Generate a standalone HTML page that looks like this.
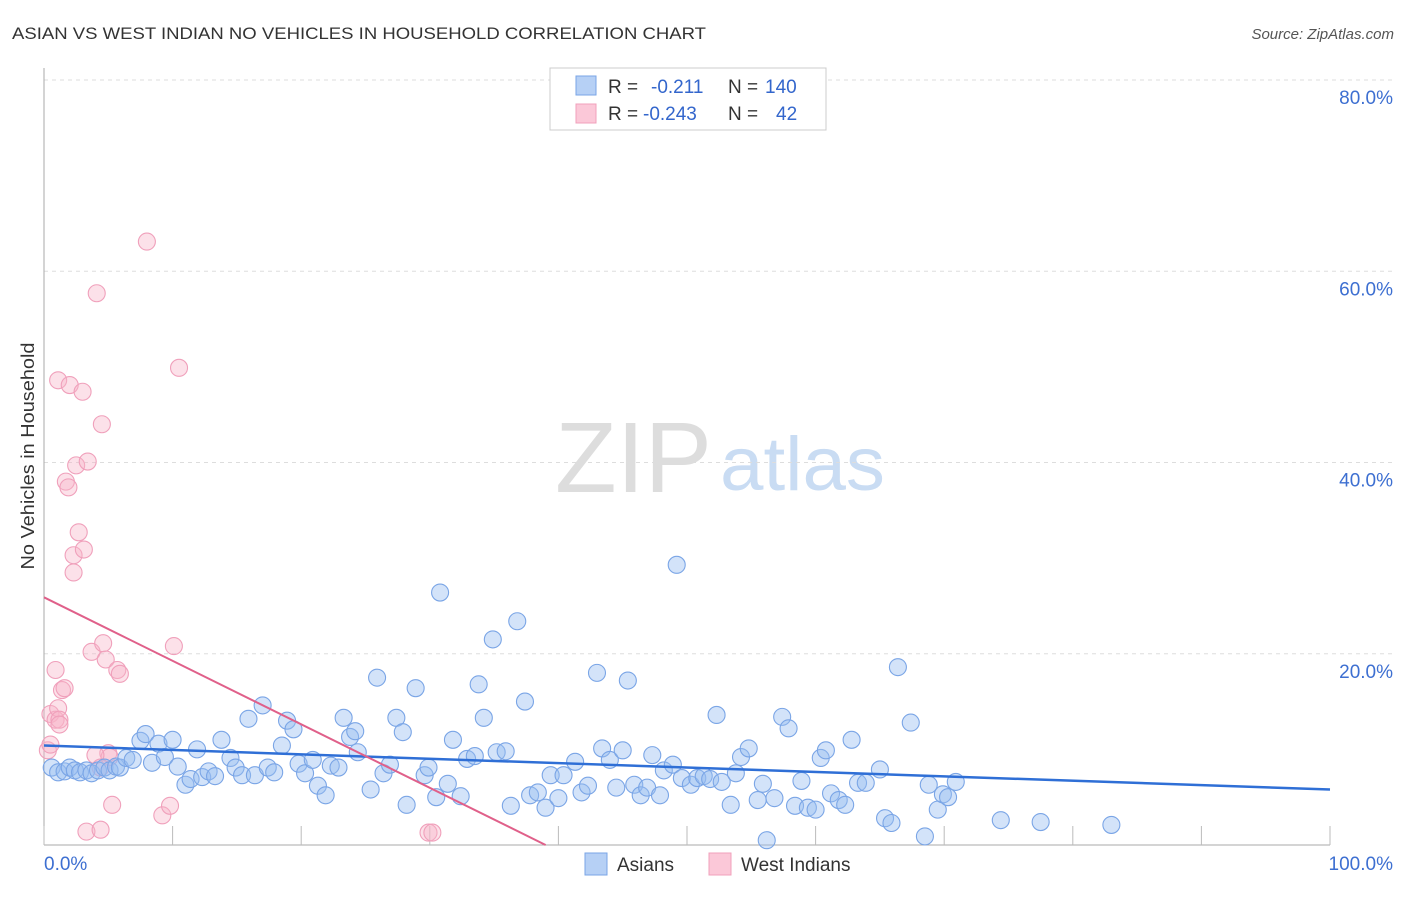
<!DOCTYPE html>
<html><head><meta charset="utf-8"><style>
body{margin:0;background:#fff;font-family:"Liberation Sans",sans-serif;}
svg text{font-family:"Liberation Sans",sans-serif;}
</style></head><body>
<svg id="chart" width="1406" height="892" viewBox="0 0 1406 892" xmlns="http://www.w3.org/2000/svg">
<text x="12" y="39" font-size="17" fill="#333" textLength="694" lengthAdjust="spacingAndGlyphs">ASIAN VS WEST INDIAN NO VEHICLES IN HOUSEHOLD CORRELATION CHART</text>
<text x="1394" y="39" font-size="15" fill="#555" font-style="italic" text-anchor="end">Source: ZipAtlas.com</text>
<text x="34" y="456" font-size="18" fill="#333" text-anchor="middle" textLength="227" lengthAdjust="spacingAndGlyphs" transform="rotate(-90 34 456)">No Vehicles in Household</text>
<g><text x="555" y="492" font-size="100" fill="#ddd" font-family="Liberation Serif" textLength="157" lengthAdjust="spacingAndGlyphs">ZIP</text><text x="720" y="490" font-size="76" fill="#c9dcf3" textLength="165" lengthAdjust="spacingAndGlyphs">atlas</text></g>
<g id="grid"></g>
<g id="axes"></g>
<g id="marks"></g>
<g>
<rect x="550" y="68" width="276" height="62" fill="#fff" stroke="#ccc"/>
<rect x="576" y="76" width="20" height="19" fill="#b6d0f5" stroke="#7aa5e6"/>
<rect x="576" y="104" width="20" height="19" fill="#fbc8d8" stroke="#f0a0bb"/>
<text x="608" y="93" font-size="19" fill="#333">R =</text><text x="651" y="93" font-size="19" fill="#3366cc">-0.211</text><text x="728" y="93" font-size="19" fill="#333">N =</text><text x="765" y="93" font-size="19" fill="#3366cc">140</text>
<text x="608" y="120" font-size="19" fill="#333">R =</text><text x="643" y="120" font-size="19" fill="#3366cc">-0.243</text><text x="728" y="120" font-size="19" fill="#333">N =</text><text x="776" y="120" font-size="19" fill="#3366cc">42</text>
</g>
<g>
<rect x="585" y="853" width="22" height="22" fill="#b6d0f5" stroke="#7aa5e6"/>
<text x="617" y="871" font-size="19" fill="#333">Asians</text>
<rect x="709" y="853" width="22" height="22" fill="#fbc8d8" stroke="#f0a0bb"/>
<text x="741" y="871" font-size="19" fill="#333">West Indians</text>
</g>
</svg>
<script>
const yTicks=[20,40,60,80];
const yTickLabels=["20.0%","40.0%","60.0%","80.0%"];
const xTicks=[0,10,20,30,40,50,60,70,80,90,100];
const asianX=[0.6,1.1,1.6,2.0,2.4,2.8,3.3,3.7,4.2,4.7,5.1,5.6,5.9,6.4,6.9,7.5,7.9,8.4,8.9,9.4,10.0,10.4,11.0,11.4,11.9,12.3,12.8,13.3,13.8,14.5,14.9,15.4,15.9,16.4,17.0,17.4,17.9,18.5,18.9,19.4,19.8,20.3,20.9,21.3,21.9,22.3,22.9,23.3,23.8,24.2,24.4,25.4,25.9,26.4,26.9,27.4,27.9,28.2,28.9,29.6,29.9,30.5,30.8,31.4,31.8,32.4,32.9,33.5,33.8,34.2,34.9,35.2,35.9,36.3,36.8,37.4,37.8,38.4,39.0,39.4,40.0,40.4,41.3,41.8,42.3,43.0,43.4,44.0,44.5,45.0,45.4,45.9,46.4,46.9,47.3,47.9,48.2,48.9,49.2,49.6,50.3,50.8,51.3,51.8,52.3,52.7,53.4,53.8,54.2,54.8,55.5,55.9,56.2,56.8,57.4,57.9,58.4,58.9,59.4,60.0,60.4,60.8,61.2,61.8,62.3,62.8,63.3,63.9,65.0,65.4,65.9,66.4,67.4,68.5,68.8,69.5,69.9,70.3,70.9,74.4,77.5,83.0];
const asianY=[8.1,7.6,7.7,8.1,7.8,7.6,7.8,7.5,7.8,8.1,7.8,8.2,8.1,9.1,8.9,10.9,11.6,8.6,10.6,9.2,11.0,8.2,6.3,6.9,10.0,7.1,7.7,7.2,11.0,9.1,8.1,7.3,13.2,7.3,14.6,8.1,7.6,10.4,13.0,12.1,8.5,7.5,8.9,6.2,5.2,8.3,8.1,13.3,11.3,11.9,9.7,5.8,17.5,7.5,8.4,13.3,11.8,4.2,16.4,7.3,8.1,5.0,26.4,6.4,11.0,5.1,9.0,9.3,16.8,13.3,21.5,9.7,9.8,4.1,23.4,15.0,5.2,5.5,3.9,7.3,4.9,7.3,8.7,5.5,6.2,18.0,10.1,8.9,6.0,9.9,17.2,6.3,5.2,6.0,9.4,5.2,7.8,8.4,29.3,7.0,6.3,7.0,7.2,6.9,13.6,6.6,4.2,7.5,9.2,10.1,4.7,6.4,0.5,4.9,13.4,12.2,4.1,6.7,3.9,3.7,9.1,9.9,5.4,4.7,4.2,11.0,6.5,6.5,7.9,2.8,2.3,18.6,12.8,0.9,6.3,3.7,5.3,5.0,6.6,2.6,2.4,2.1];
const wiX=[0.9,1.1,1.4,1.6,0.5,0.9,1.1,1.2,0.3,0.5,1.7,1.9,2.0,2.3,2.3,2.5,2.7,3.0,3.1,3.3,3.4,3.7,4.1,4.4,4.5,4.6,4.8,5.0,5.1,5.3,5.7,5.9,8.0,9.2,9.8,10.1,10.5,29.9,30.2,4.0,4.4,1.2];
const wiY=[18.3,48.6,16.2,16.4,13.7,13.1,14.3,13.1,9.9,10.5,38.0,37.4,48.1,30.3,28.5,39.7,32.7,47.4,30.9,1.4,40.1,20.2,57.7,1.6,44.0,21.1,19.4,9.6,9.2,4.2,18.3,17.9,63.1,3.1,4.1,20.8,49.9,1.3,1.3,9.4,8.1,12.6];
const asianTrend=[10.4,5.8];   // value at x=0, x=100
const wiTrend=[25.9,-0.664];   // intercept, slope
const NS="http://www.w3.org/2000/svg";
const X0=44,X1=1330,Y0=845,Y80=80;
const sx=v=>X0+(X1-X0)*v/100;
const sy=v=>Y0-(Y0-Y80)*v/80;
function mk(tag,attrs,parent){const e=document.createElementNS(NS,tag);for(const k in attrs)e.setAttribute(k,attrs[k]);parent.appendChild(e);return e;}
const grid=document.getElementById('grid'),axes=document.getElementById('axes'),marks=document.getElementById('marks');
yTicks.forEach((t,i)=>{
 const l=mk('line',{x1:X0,x2:1394,y1:sy(t),y2:sy(t),stroke:'#ddd','stroke-dasharray':'4 4'},grid);
 
 
 const tx=mk('text',{x:1393,y:sy(t)+24,'font-size':19,fill:'#3d6fd1','text-anchor':'end'},axes);
 tx.textContent=yTickLabels[i];
 
 
});
const ax=mk('line',{x1:X0,x2:X0,y1:68,y2:Y0,stroke:'#aaa'},axes);


const bx=mk('line',{x1:X0,x2:X1,y1:Y0,y2:Y0,stroke:'#aaa'},axes);


xTicks.forEach(t=>{
 const l=mk('line',{x1:sx(t),x2:sx(t),y1:Y0-19,y2:Y0,stroke:'#bbb'},axes);
 
 
});
const xl=mk('text',{x:44,y:870,'font-size':19,fill:'#3d6fd1'},axes);xl.textContent='0.0%';


const xr=mk('text',{x:1393,y:870,'font-size':19,fill:'#3d6fd1','text-anchor':'end'},axes);xr.textContent='100.0%';


function pts(xs,ys,fill,stroke,name){xs.forEach((x,i)=>{
 const c=mk('circle',{cx:sx(x),cy:sy(ys[i]),r:8.5,fill:fill,stroke:stroke,'stroke-width':1.1},marks);
 
 
});}
pts(wiX,wiY,'rgba(248,180,200,0.4)','#f0a0bb','west-indian-point');
pts(asianX,asianY,'rgba(150,188,240,0.42)','#7aa5e6','asian-point');
const bl=mk('line',{x1:sx(0),y1:sy(asianTrend[0]),x2:sx(100),y2:sy(asianTrend[1]),stroke:'#2f6fd6','stroke-width':2.5},marks);


const xEnd=-wiTrend[0]/wiTrend[1];
const pl=mk('line',{x1:sx(0),y1:sy(wiTrend[0]),x2:sx(xEnd),y2:sy(0),stroke:'#e0608a','stroke-width':2},marks);


</script>
</body></html>
